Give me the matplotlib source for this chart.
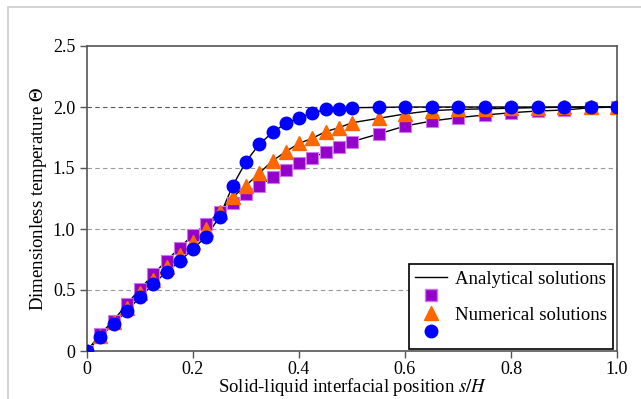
import numpy as np
import matplotlib
matplotlib.use("Agg")
import matplotlib.pyplot as plt
from matplotlib.lines import Line2D
from matplotlib.patches import Rectangle

plt.rcParams['font.family'] = ['Liberation Serif', 'DejaVu Serif']
plt.rcParams['mathtext.fontset'] = 'stix'

x = [0, 0.025, 0.05, 0.075, 0.1, 0.125, 0.15, 0.175, 0.2, 0.225, 0.25, 0.275,
     0.3, 0.325, 0.35, 0.375, 0.4, 0.425, 0.45, 0.475, 0.5,
     0.55, 0.6, 0.65, 0.7, 0.75, 0.8, 0.85, 0.9, 0.95, 1.0]

squares = [0, 0.139, 0.249, 0.385, 0.508, 0.628, 0.74, 0.847, 0.954, 1.041, 1.137, 1.21,
           1.284, 1.355, 1.424, 1.484, 1.538, 1.585, 1.631, 1.669, 1.716,
           1.779, 1.844, 1.885, 1.913, 1.934, 1.953, 1.967, 1.975, 1.994, 2.0]

triangles = [0, 0.125, 0.235, 0.35, 0.478, 0.582, 0.69, 0.787, 0.896, 0.997, 1.142, 1.26,
             1.356, 1.458, 1.558, 1.634, 1.702, 1.743, 1.798, 1.83, 1.871,
             1.907, 1.943, 1.97, 1.98, 1.985, 1.99, 1.995, 1.998, 2.0, 2.0]

circles = [0, 0.117, 0.221, 0.33, 0.44, 0.549, 0.648, 0.735, 0.839, 0.937, 1.101, 1.355,
           1.552, 1.695, 1.791, 1.865, 1.912, 1.95, 1.98, 1.985, 1.994,
           1.997, 2.0, 2.0, 2.0, 2.0, 2.0, 2.0, 2.0, 2.0, 2.0]

xticks = [0, 0.2, 0.4, 0.6, 0.8, 1.0]
xticklabels = ["0", "0.2", "0.4", "0.6", "0.8", "1.0"]
yticks = [0, 0.5, 1.0, 1.5, 2.0, 2.5]
yticklabels = ["0", "0.5", "1.0", "1.5", "2.0", "2.5"]

purple = '#9400C8'
purple_edge = '#CC77EE'
orange = '#FF6600'
blue = '#0000FF'

ms_sq, ms_tri, ms_cir = 8, 9.5, 9

fig = plt.figure(figsize=(6.41, 3.99), dpi=100)
fig.patches.append(Rectangle((8/641, -0.1), 1.2, 1 - 7/399 + 0.1, transform=fig.transFigure,
                             fill=False, edgecolor='#cccccc', linewidth=1.2, zorder=0))
ax = fig.add_axes([87/641, 1 - 351/399, 530/641, 305/399])

for yv in [0.5, 1.0, 1.5, 2.0]:
    ax.axhline(yv, color='#999999' if yv < 2 else '#555555', linestyle=(0, (4, 3)), linewidth=0.8, zorder=0)

for ys in (squares, triangles, circles):
    ax.plot(x, ys, color='black', linewidth=1.0, zorder=2)

ax.plot(x, squares, linestyle='none', marker='s', markersize=ms_sq, color=purple,
        markeredgecolor=purple_edge, markeredgewidth=0.8, zorder=3)
ax.plot(x, triangles, linestyle='none', marker='^', markersize=ms_tri, color=orange,
        markeredgecolor=orange, zorder=4)
ax.plot(x, circles, linestyle='none', marker='o', markersize=ms_cir, color=blue,
        markeredgecolor=blue, zorder=5)

ax.set_xlim(0, 1.0)
ax.set_ylim(0, 2.5)
ax.set_xticks(xticks)
ax.set_xticklabels(xticklabels)
ax.set_yticks(yticks)
ax.set_yticklabels(yticklabels)
ax.tick_params(axis='both', labelsize=13, direction='out', length=5, width=1, color='#555555')
ax.tick_params(axis='x', pad=2)
for s in ax.spines.values():
    s.set_color('#555555')
    s.set_linewidth(1.2)

ax.set_xlabel(r'Solid-liquid interfacial position $s/H$', fontsize=13.5, labelpad=-1)
ax.set_ylabel(r'Dimensionless temperature $\mathit{\Theta}$', fontsize=13.5, labelpad=3)

handles = [
    Line2D([], [], color='black', linewidth=1.0),
    Line2D([], [], linestyle='none', marker='s', markersize=ms_sq, color=purple,
           markeredgecolor=purple_edge),
    Line2D([], [], linestyle='none', marker='^', markersize=ms_tri, color=orange),
    Line2D([], [], linestyle='none', marker='o', markersize=ms_cir, color=blue),
]
labels = ["Analytical solutions", "", "Numerical solutions", ""]
leg = ax.legend(handles, labels, loc='lower right', bbox_to_anchor=(0.993, 0.008),
                fontsize=13.5, frameon=True, fancybox=False, edgecolor='black',
                handlelength=1.7, handletextpad=0.4, labelspacing=0.05,
                borderpad=0.35, borderaxespad=0, framealpha=1)
leg.get_frame().set_linewidth(1.2)

fig.savefig('out.png', dpi=100)
